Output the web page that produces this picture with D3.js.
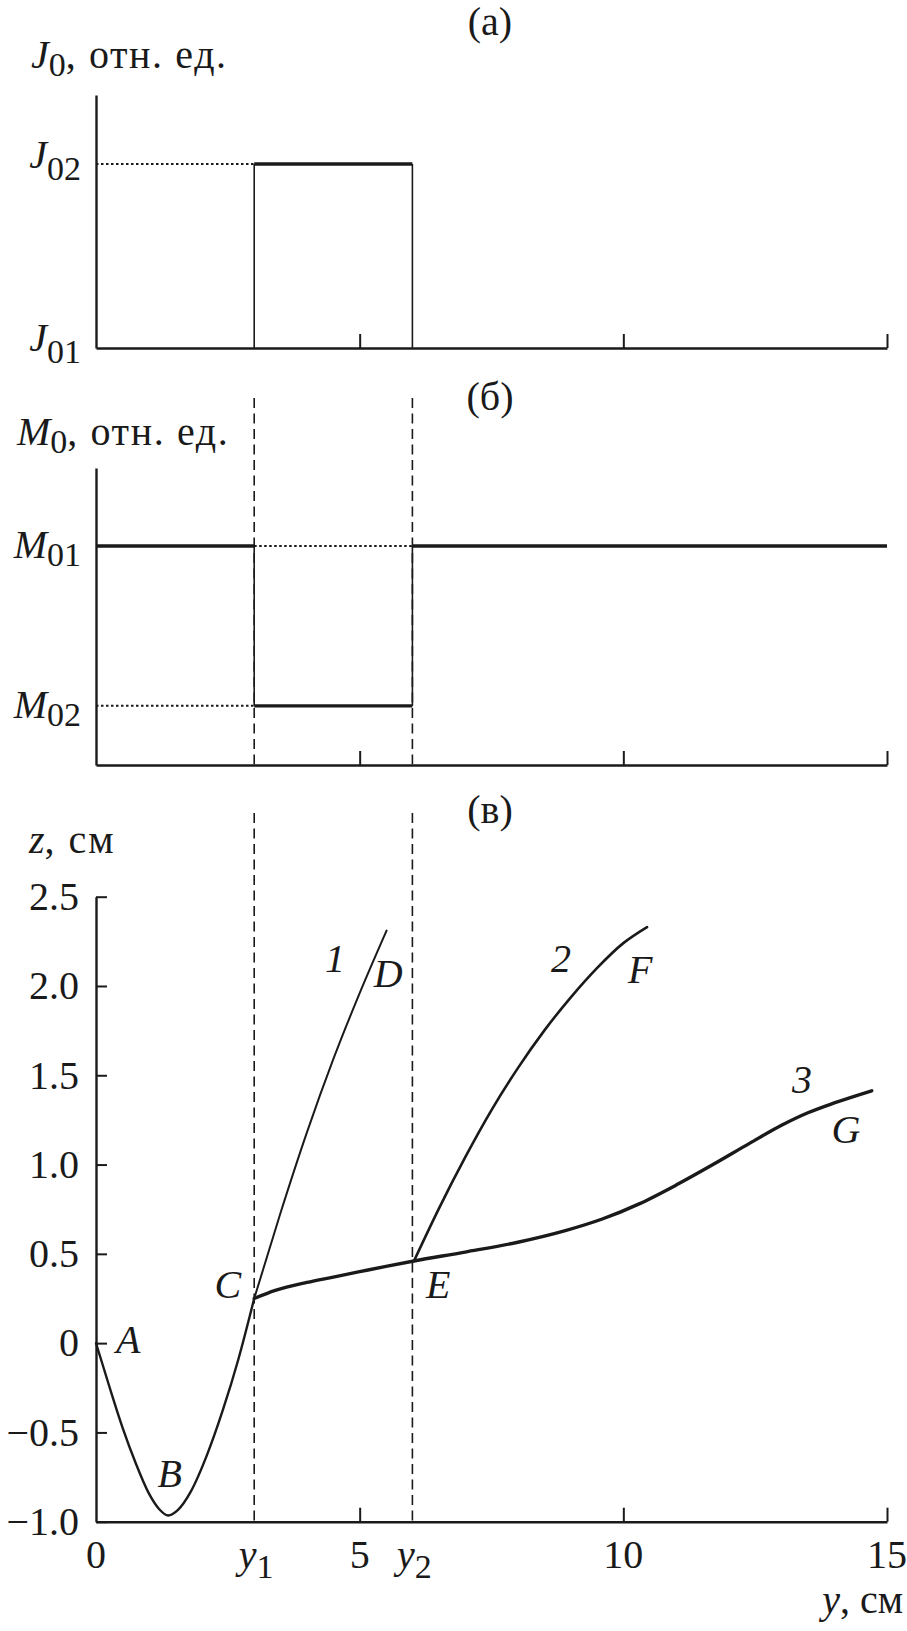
<!DOCTYPE html>
<html><head><meta charset="utf-8">
<script src="https://cdn.jsdelivr.net/npm/d3@7"></script>
<style>
html,body{margin:0;padding:0;background:#fff;}
svg text{font-family:"Liberation Serif","Times New Roman",serif;fill:#1a1a1a;}
</style></head>
<body>
<svg id="chart" width="907" height="1631"></svg>
<script>
// ---------- data ----------
const yDomain = [0, 15];
const xTickValues = [5, 10, 15];
const y1 = 3.0, y2 = 6.0;
// panel (a): current density levels (relative units)
const jDomain = [0, 1.375];
const J01 = 0, J02 = 1;
// panel (б): magnetization levels (relative units)
const mDomain = [0, 1.356];
const M01 = 1, M02 = 0.27;
// panel (в)
const zDomain = [-1.0, 2.5];
const zTicks = [2.5, 2.0, 1.5, 1.0, 0.5, 0, -0.5, -1.0];
const zTickLabels = ["2.5", "2.0", "1.5", "1.0", "0.5", "0", "\u22120.5", "\u22121.0"];
const xBottomLabels = [
  {v: 0, t: "0"}, {v: 3, t: "y", sub: "1"}, {v: 5, t: "5"},
  {v: 6, t: "y", sub: "2"}, {v: 10, t: "10"}, {v: 15, t: "15"}
];
// trajectories (y, z) in cm
const curveABC = [[0,0],[0.25,-0.24],[0.5,-0.47],[0.75,-0.67],[1.0,-0.84],[1.2,-0.93],[1.37,-0.965],[1.55,-0.935],[1.8,-0.83],[2.1,-0.63],[2.4,-0.38],[2.7,-0.09],[3.0,0.25]];
const curve1 = [[3.0,0.25],[3.5,0.73],[4.0,1.18],[4.5,1.59],[5.0,1.96],[5.51,2.31]];
const curve2 = [[6.03,0.46],[6.5,0.752],[7.0,1.04],[7.5,1.305],[8.0,1.54],[8.5,1.75],[9.0,1.935],[9.5,2.1],[10.0,2.24],[10.45,2.33]];
const curve3 = [[3.0,0.25],[3.4,0.295],[4.0,0.34],[4.5,0.37],[5.0,0.40],[5.5,0.43],[6.03,0.46],[7.0,0.51],[8.0,0.565],[8.9,0.63],[9.6,0.695],[10.3,0.78],[11.0,0.885],[11.7,1.0],[12.4,1.12],[13.0,1.22],[13.5,1.29],[14.0,1.345],[14.71,1.413]];
const pointLabels = [
  {t:"A", y:0.61, z:-0.055}, {t:"B", y:1.40, z:-0.806}, {t:"C", y:2.50, z:0.253},
  {t:"E", y:6.49, z:0.253}, {t:"1", y:4.53, z:2.08}, {t:"D", y:5.54, z:1.994},
  {t:"2", y:8.82, z:2.08}, {t:"F", y:10.32, z:2.017}, {t:"3", y:13.39, z:1.40}, {t:"G", y:14.22, z:1.121}
];

// ---------- drawing ----------
const svg = d3.select("#chart");
const FS = 40, SUB = 34;
const ink = "#1a1a1a";
const x = d3.scaleLinear().domain(yDomain).range([96, 887]);

function richText(g, px, py, parts, anchor, opts) {
  opts = opts || {};
  const t = g.append("text").attr("x", px).attr("y", py)
    .attr("font-size", opts.fs || FS).attr("text-anchor", anchor || "start");
  let shifted = false;
  const dd = opts.subDy || 9;
  parts.forEach(p => {
    const s = t.append("tspan").text(p.t);
    if (p.it) s.attr("font-style", "italic");
    if (p.ls) s.attr("letter-spacing", p.ls);
    if (p.sub) { s.attr("font-size", SUB).attr("dy", shifted ? 0 : dd); shifted = true; }
    else if (shifted) { s.attr("dy", -dd); shifted = false; }
  });
  return t;
}

function xAxis(yPos) {
  const ax = d3.axisBottom(x).tickValues(xTickValues).tickSizeInner(-14).tickSizeOuter(0).tickFormat("");
  const g = svg.append("g").attr("transform", `translate(0,${yPos})`).call(ax);
  g.select(".domain").attr("stroke", ink).attr("stroke-width", 2.4);
  g.selectAll(".tick line").attr("stroke", ink).attr("stroke-width", 2);
  return g;
}
function yAxisLine(scale) {
  const ax = d3.axisLeft(scale).tickValues([]).tickSizeOuter(0);
  const g = svg.append("g").attr("transform", `translate(${x(0)},0)`).call(ax);
  g.select(".domain").attr("stroke", ink).attr("stroke-width", 2.4);
}
function seg(x1, ya, x2, yb, w, dash) {
  const l = svg.append("line").attr("x1", x1).attr("y1", ya).attr("x2", x2).attr("y2", yb)
    .attr("stroke", ink).attr("stroke-width", w);
  if (dash) l.attr("stroke-dasharray", dash);
  return l;
}

// ----- panel (a) -----
const jy = d3.scaleLinear().domain(jDomain).range([348, 95]);
richText(svg, 490, 35, [{t:"(а)"}], "middle");
richText(svg, 31, 68, [{t:"J", it:true}, {t:"0", sub:true}, {t:", отн. ед.", ls:1.6}], "start", {subDy: 8});
yAxisLine(jy);
seg(x(0), jy(J02), x(y1), jy(J02), 2, "2.5,2.5");
seg(x(y1), jy(J01), x(y1), jy(J02), 1.6);
seg(x(y2), jy(J01), x(y2), jy(J02), 1.6);
seg(x(y1), jy(J02), x(y2), jy(J02), 3.6);
xAxis(jy(J01));
richText(svg, 81, jy(J02) + 4, [{t:"J", it:true}, {t:"02", sub:true}], "end", {subDy: 12});
richText(svg, 81, jy(J01) + 3, [{t:"J", it:true}, {t:"01", sub:true}], "end", {subDy: 12});

// ----- panel (б) -----
const my = d3.scaleLinear().domain([0, mDomain[1]]).range([765, 468]);
richText(svg, 490, 410, [{t:"(б)"}], "middle");
richText(svg, 17, 445, [{t:"M", it:true}, {t:"0", sub:true}, {t:", отн. ед.", ls:1.6}], "start", {subDy: 8});
yAxisLine(my);
seg(x(0), my(M02), x(y1), my(M02), 2, "2.5,2.5");
seg(x(y1), my(M01), x(y2), my(M01), 2, "2.5,2.5");
seg(x(y1), my(M01), x(y1), my(M02), 1.6);
seg(x(y2), my(M01), x(y2), my(M02), 1.6);
seg(x(0), my(M01), x(y1), my(M01), 3.4);
seg(x(y2), my(M01), x(15), my(M01), 3.4);
seg(x(y1), my(M02), x(y2), my(M02), 3.4);
[y1, y2].forEach(v => seg(x(v), 398, x(v), 765, 1.6, "10,5.5"));
xAxis(my(0));
richText(svg, 81, my(M01) + 12, [{t:"M", it:true}, {t:"01", sub:true}], "end", {subDy: 8});
richText(svg, 81, my(M02) + 12, [{t:"M", it:true}, {t:"02", sub:true}], "end", {subDy: 8});

// ----- panel (в) -----
const zy = d3.scaleLinear().domain(zDomain).range([1521.7, 896.7]);
richText(svg, 490, 823, [{t:"(в)"}], "middle");
richText(svg, 29, 853, [{t:"z", it:true}, {t:", см", ls:2}]);
[y1, y2].forEach(v => seg(x(v), 813, x(v), zy(-1), 1.6, "10,5.5"));
{
  const ax = d3.axisLeft(zy).tickValues(zTicks).tickSizeInner(-11).tickSizeOuter(0).tickPadding(17)
    .tickFormat((d, i) => zTickLabels[i]);
  const g = svg.append("g").attr("transform", `translate(${x(0)},0)`).call(ax);
  g.select(".domain").attr("stroke", ink).attr("stroke-width", 2.4);
  g.selectAll(".tick line").attr("stroke", ink).attr("stroke-width", 2);
  g.selectAll(".tick text").attr("font-size", FS).attr("font-family", "Liberation Serif").attr("fill", ink);
}
xAxis(zy(-1));
xBottomLabels.forEach(d => {
  const parts = d.sub ? [{t:d.t, it:true}, {t:d.sub, sub:true}] : [{t:d.t}];
  richText(svg, x(d.v) + (d.sub ? 2 : 0), 1568, parts, "middle", {subDy: 10});
});
richText(svg, 903, 1613, [{t:"y", it:true}, {t:", см"}], "end");

const line = d3.line().x(d => x(d[0])).y(d => zy(d[1])).curve(d3.curveMonotoneX);
const curves = [
  {data: curveABC, w: 2.4},
  {data: curve1, w: 2.0},
  {data: curve2, w: 2.6},
  {data: curve3, w: 3.4}
];
curves.forEach(c => svg.append("path").attr("d", line(c.data)).attr("fill", "none")
  .attr("stroke", ink).attr("stroke-width", c.w).attr("stroke-linejoin", "round").attr("stroke-linecap", "round"));

pointLabels.forEach(p => {
  svg.append("text").attr("x", x(p.y)).attr("y", zy(p.z)).attr("font-size", FS)
    .attr("font-style", "italic").attr("text-anchor", "middle").text(p.t);
});
</script>
</body></html>
